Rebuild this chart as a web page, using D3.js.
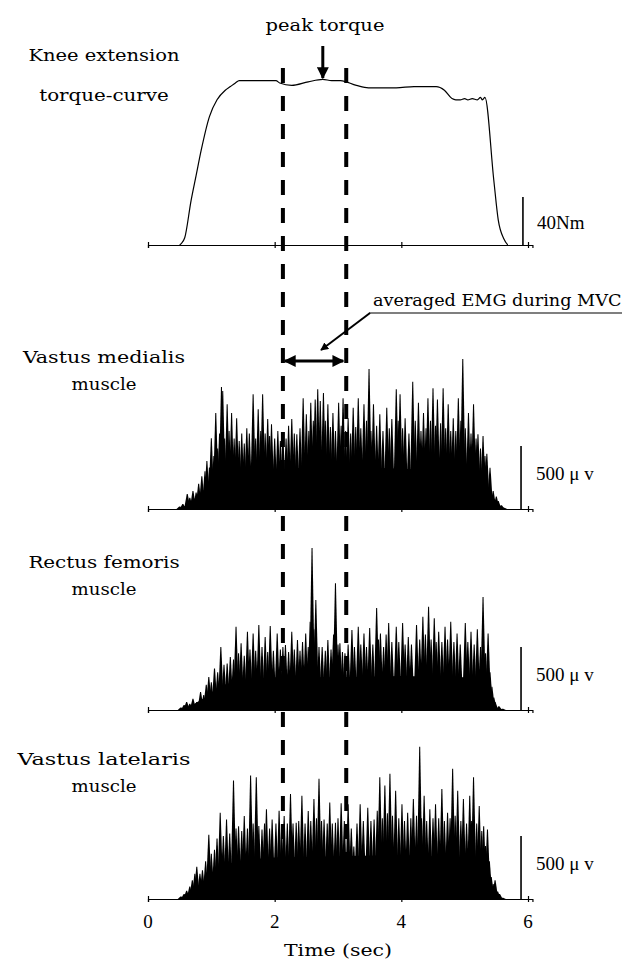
<!DOCTYPE html>
<html>
<head>
<meta charset="utf-8">
<script src="https://cdn.jsdelivr.net/npm/d3@7"></script>
<style>
  body { margin: 0; background: #fff; }
  svg text { font-family: 'DejaVu Serif', serif; font-stretch: condensed; font-size: 16px; fill: #000; }
  .num { font-family: 'Liberation Serif', serif; font-stretch: normal; font-size: 19px; }
</style>
</head>
<body>
<div id="chart"></div>
<script>
// ---- data ----
const timeTicks = [0, 2, 4, 6];
const mvcWindow = [2.13, 3.13];   // sec, dashed lines
const peakTime = 2.76;            // sec

// knee extension torque [sec, Nm]
const torque = [[0.50,0],[0.52,1],[0.58,6],[0.68,37],[0.76,58],[0.84,79],[0.97,107],[1.09,121],
  [1.22,129],[1.30,132],[1.38,135],[1.44,137],[1.70,137],[2.02,137],[2.08,135],[2.27,133],
  [2.53,136],[2.76,138],[2.90,137],[3.04,137],[3.29,133],[3.48,131],[3.70,131],[3.92,131],
  [4.20,132],[4.55,132],[4.68,129],[4.80,122],[4.86,121],[4.93,121],[5.00,122],[5.05,121],
  [5.12,122],[5.20,121],[5.25,123],[5.28,121],[5.32,123],[5.46,54],[5.53,21],[5.62,5],[5.68,0]];

// solid part of the rectified EMG [sec, µV]
const vmBody = [[0.50,0],[0.60,30],[0.70,70],[0.80,110],[0.90,160],[1.00,200],[1.20,250],[1.50,290],
  [2.00,310],[2.50,330],[3.00,320],[3.50,330],[4.00,320],[4.50,310],[5.00,290],[5.20,250],
  [5.35,180],[5.45,90],[5.55,30],[5.65,0]];
const rfBody = [[0.50,0],[0.60,15],[0.70,40],[0.80,70],[0.90,100],[1.00,140],[1.20,200],[1.50,240],
  [2.00,260],[3.00,260],[4.00,270],[5.00,260],[5.30,230],[5.38,150],[5.43,50],[5.50,15],[5.60,0]];
const vlBody = [[0.50,0],[0.60,30],[0.70,70],[0.80,110],[0.90,150],[1.00,210],[1.20,270],[1.50,310],
  [2.00,330],[3.00,340],[4.00,350],[5.00,330],[5.25,300],[5.33,200],[5.40,90],[5.50,40],[5.57,0]];

// spikes [sec, µV]
const vmSpikes = [[0.50,20],[0.55,40],[0.62,120],[0.66,90],[0.71,143],[0.76,130],[0.80,200],[0.85,260],
  [0.90,300],[0.93,381],[0.97,330],[1.00,561],[1.04,420],[1.07,762],[1.10,480],[1.13,600],[1.16,969],
  [1.18,937],[1.21,560],[1.25,831],[1.28,620],[1.32,762],[1.36,560],[1.40,720],[1.44,540],[1.48,600],
  [1.52,520],[1.56,640],[1.60,600],[1.66,910],[1.70,560],[1.74,791],[1.78,620],[1.81,910],[1.85,600],
  [1.89,714],[1.92,580],[1.95,672],[2.00,560],[2.05,619],[2.09,540],[2.13,593],[2.18,560],[2.22,660],
  [2.27,714],[2.31,600],[2.35,593],[2.40,640],[2.45,879],[2.50,751],[2.54,620],[2.57,844],[2.61,700],
  [2.64,870],[2.68,950],[2.72,857],[2.77,921],[2.80,700],[2.84,831],[2.88,650],[2.92,762],[2.96,620],
  [3.01,844],[3.05,660],[3.08,879],[3.12,620],[3.16,720],[3.20,600],[3.24,804],[3.28,650],[3.32,879],
  [3.36,640],[3.41,831],[3.45,700],[3.49,1111],[3.52,620],[3.56,831],[3.61,660],[3.66,751],[3.71,620],
  [3.77,804],[3.81,640],[3.85,714],[3.92,950],[3.95,700],[3.98,910],[4.02,640],[4.06,720],[4.12,600],
  [4.18,1010],[4.22,700],[4.27,844],[4.31,620],[4.35,762],[4.39,640],[4.42,879],[4.46,700],[4.50,958],
  [4.54,660],[4.57,870],[4.62,680],[4.66,958],[4.70,640],[4.74,831],[4.78,620],[4.82,720],[4.86,620],
  [4.90,879],[4.94,700],[4.97,1190],[5.01,640],[5.06,762],[5.10,600],[5.14,831],[5.18,560],[5.21,593],
  [5.25,480],[5.29,580],[5.32,420],[5.35,439],[5.40,328],[5.45,143],[5.50,100],[5.53,64],[5.58,30],[5.62,10]];
const rfSpikes = [[0.52,20],[0.57,40],[0.61,64],[0.66,50],[0.71,90],[0.77,64],[0.83,143],[0.88,120],
  [0.92,200],[0.96,262],[1.00,220],[1.05,330],[1.10,300],[1.15,500],[1.20,360],[1.25,370],[1.30,420],
  [1.35,400],[1.39,661],[1.43,450],[1.47,529],[1.52,430],[1.57,622],[1.61,480],[1.66,608],[1.70,470],
  [1.75,675],[1.80,500],[1.85,580],[1.89,460],[1.93,667],[1.98,470],[2.04,608],[2.09,480],[2.13,500],
  [2.17,516],[2.22,460],[2.27,622],[2.31,480],[2.36,556],[2.40,470],[2.44,540],[2.49,608],[2.53,500],
  [2.56,700],[2.59,1286],[2.62,640],[2.65,873],[2.70,500],[2.75,500],[2.80,470],[2.84,556],[2.89,480],
  [2.93,600],[2.96,1006],[3.00,520],[3.03,530],[3.07,460],[3.11,450],[3.16,520],[3.22,635],[3.26,500],
  [3.32,661],[3.36,520],[3.41,608],[3.45,500],[3.50,650],[3.55,520],[3.61,810],[3.64,560],[3.67,608],
  [3.72,500],[3.76,600],[3.80,690],[3.85,540],[3.92,661],[3.96,540],[4.02,690],[4.06,520],[4.11,580],
  [4.16,520],[4.24,675],[4.29,560],[4.34,741],[4.38,600],[4.43,820],[4.47,560],[4.52,728],[4.55,540],
  [4.59,622],[4.64,540],[4.69,661],[4.73,560],[4.78,700],[4.83,540],[4.88,608],[4.93,520],[5.01,690],
  [5.05,540],[5.10,622],[5.15,520],[5.20,640],[5.25,500],[5.29,897],[5.33,450],[5.37,608],[5.40,300],
  [5.43,185],[5.46,100],[5.48,64],[5.54,30],[5.60,10]];
const vlSpikes = [[0.52,20],[0.57,40],[0.61,66],[0.66,100],[0.70,148],[0.74,200],[0.77,255],[0.82,200],
  [0.86,228],[0.91,300],[0.96,510],[1.00,360],[1.05,390],[1.09,480],[1.14,685],[1.19,500],[1.24,631],
  [1.29,520],[1.35,940],[1.39,560],[1.43,578],[1.48,540],[1.52,658],[1.57,560],[1.62,981],[1.66,600],
  [1.71,967],[1.75,580],[1.80,551],[1.84,600],[1.87,712],[1.92,560],[1.96,631],[2.02,600],[2.07,700],
  [2.11,560],[2.15,658],[2.20,600],[2.25,833],[2.29,600],[2.34,605],[2.38,620],[2.43,819],[2.48,600],
  [2.53,698],[2.57,620],[2.62,793],[2.66,640],[2.70,954],[2.74,620],[2.78,631],[2.83,600],[2.87,766],
  [2.91,600],[2.96,605],[3.00,640],[3.05,760],[3.10,620],[3.16,752],[3.21,560],[3.25,416],[3.30,600],
  [3.35,752],[3.40,620],[3.47,725],[3.52,620],[3.57,631],[3.62,700],[3.66,967],[3.70,640],[3.74,900],
  [3.78,680],[3.82,994],[3.86,660],[3.91,860],[3.96,640],[4.01,752],[4.05,620],[4.10,685],[4.15,640],
  [4.19,793],[4.24,660],[4.29,1209],[4.32,640],[4.36,819],[4.40,620],[4.45,712],[4.50,640],[4.54,752],
  [4.59,640],[4.64,873],[4.68,620],[4.73,685],[4.77,640],[4.81,1034],[4.85,660],[4.89,860],[4.94,620],
  [4.98,793],[5.03,600],[5.08,819],[5.11,620],[5.14,967],[5.19,600],[5.23,739],[5.27,540],[5.30,578],
  [5.33,420],[5.36,551],[5.39,300],[5.42,175],[5.45,120],[5.48,148],[5.52,60],[5.55,40],[5.60,10]];

// ---- drawing ----
const width = 623;
const height = 962;
const charW = 10.8;   // the figure uses a fixed pitch font

const svg = d3.select('#chart')
  .append('svg')
  .attr('width', width)
  .attr('height', height);

const defs = svg.append('defs');
defs.append('marker')
  .attr('id', 'head')
  .attr('viewBox', '0 0 10 10')
  .attr('refX', 9).attr('refY', 5)
  .attr('markerWidth', 4).attr('markerHeight', 4)
  .attr('markerUnits', 'strokeWidth')
  .attr('orient', 'auto-start-reverse')
  .append('path')
  .attr('d', 'M0,0 L10,5 L0,10 Z')
  .attr('fill', '#000');

const x = d3.scaleLinear().domain([0, 6]).range([148, 528]);
const axisScale = x.copy().domain([0, 6.07]).range([x(0), x(6.07)]);

function label(tx, ty, str, anchor) {
  return svg.append('text')
    .attr('x', tx).attr('y', ty)
    .attr('text-anchor', anchor || 'middle')
    .attr('textLength', str.length * charW)
    .attr('lengthAdjust', 'spacingAndGlyphs')
    .text(str);
}

function drawBaseline(base) {
  const axis = d3.axisBottom(axisScale)
    .tickValues(timeTicks)
    .tickSizeInner(3)
    .tickSizeOuter(3)
    .tickFormat('');
  const g = svg.append('g')
    .attr('transform', `translate(0, ${base})`)
    .call(axis);
  g.select('.domain').attr('stroke', '#000').attr('stroke-width', 1.2);
  g.selectAll('.tick line').attr('y1', -3).attr('stroke-width', 1.2);
  return g;
}

// torque panel
const torqueBase = 245;
const yTorque = d3.scaleLinear().domain([0, 40]).range([torqueBase, torqueBase - 48]);
drawBaseline(torqueBase);

svg.append('path')
  .attr('d', d3.line().x(d => x(d[0])).y(d => yTorque(d[1])).curve(d3.curveMonotoneX)(torque))
  .attr('fill', 'none')
  .attr('stroke', '#000')
  .attr('stroke-width', 1.2);

svg.append('line')
  .attr('x1', x(5.92)).attr('x2', x(5.92))
  .attr('y1', yTorque(0)).attr('y2', yTorque(40))
  .attr('stroke', '#000').attr('stroke-width', 1.6);
svg.append('text').attr('class', 'num')
  .attr('x', 537).attr('y', 229)
  .text('40Nm');

label(104, 61, 'Knee extension');
label(104, 101, 'torque-curve');

// peak torque arrow
label(325, 31, 'peak torque');
svg.append('line')
  .attr('x1', x(peakTime)).attr('x2', x(peakTime))
  .attr('y1', 46).attr('y2', 78)
  .attr('stroke', '#000').attr('stroke-width', 3)
  .attr('marker-end', 'url(#head)');

// EMG panels
const panels = [
  { base: 509, body: vmBody, spikes: vmSpikes, label: ['Vastus medialis', 'muscle'], labelY: 363 },
  { base: 710, body: rfBody, spikes: rfSpikes, label: ['Rectus femoris', 'muscle'], labelY: 568 },
  { base: 899, body: vlBody, spikes: vlSpikes, label: ['Vastus latelaris', 'muscle'], labelY: 765 }
];

const halfW = 3.2;   // half base of a spike, px

panels.forEach(p => {
  const y = d3.scaleLinear().domain([0, 500]).range([p.base, p.base - 63]);

  const area = d3.area()
    .x(d => x(d[0]))
    .y0(p.base)
    .y1(d => y(d[1]));

  svg.append('path')
    .attr('d', area(p.body))
    .attr('fill', '#000');

  // each spike as a narrow triangle, the overlap makes the ragged mass
  svg.append('g')
    .selectAll('path')
    .data(p.spikes)
    .join('path')
    .attr('d', d => `M${x(d[0]) - halfW},${p.base} L${x(d[0]) - 0.5},${y(d[1])} L${x(d[0]) + 0.5},${y(d[1])} L${x(d[0]) + halfW},${p.base} Z`)
    .attr('fill', '#000');

  drawBaseline(p.base);

  // 500 uV scale bar
  svg.append('line')
    .attr('x1', x(5.89)).attr('x2', x(5.89))
    .attr('y1', y(0)).attr('y2', y(500))
    .attr('stroke', '#000').attr('stroke-width', 1.6);
  svg.append('text').attr('class', 'num')
    .attr('x', 536).attr('y', p.base - 29)
    .text('500 μ v');

  label(104, p.labelY, p.label[0]);
  label(104, p.labelY + 27, p.label[1]);
});

// dashed lines marking the MVC window
svg.append('g')
  .selectAll('line')
  .data(mvcWindow)
  .join('line')
  .attr('x1', d => x(d)).attr('x2', d => x(d))
  .attr('y1', 68).attr('y2', 899)
  .attr('stroke', '#000')
  .attr('stroke-width', 4)
  .attr('stroke-dasharray', '15,13');

// averaged EMG annotation
label(373, 306, 'averaged EMG during MVC', 'start');
svg.append('line')
  .attr('x1', 369).attr('x2', 622).attr('y1', 313).attr('y2', 313)
  .attr('stroke', '#000').attr('stroke-width', 1.2);
svg.append('line')
  .attr('x1', 370).attr('y1', 313).attr('x2', 321).attr('y2', 350)
  .attr('stroke', '#000').attr('stroke-width', 2)
  .attr('marker-end', 'url(#head)');
svg.append('line')
  .attr('x1', x(mvcWindow[0]) + 2).attr('x2', x(mvcWindow[1]) - 3)
  .attr('y1', 361).attr('y2', 361)
  .attr('stroke', '#000').attr('stroke-width', 3)
  .attr('marker-start', 'url(#head)')
  .attr('marker-end', 'url(#head)');

// time axis labels
svg.append('g')
  .selectAll('text')
  .data(timeTicks)
  .join('text')
  .attr('class', 'num')
  .attr('x', d => x(d))
  .attr('y', 928)
  .attr('text-anchor', 'middle')
  .text(d => d);

label(x(3), 956, 'Time (sec)');
</script>
</body>
</html>
